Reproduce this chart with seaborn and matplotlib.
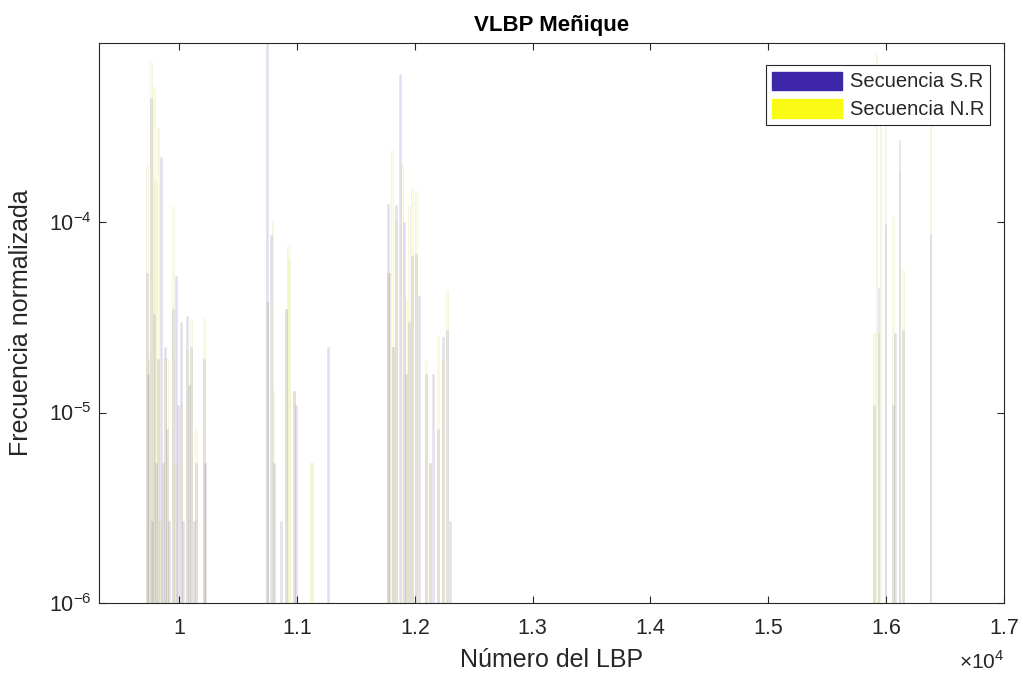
import numpy as np
import pandas as pd
import matplotlib
matplotlib.use("Agg")
import matplotlib.pyplot as plt
from matplotlib.patches import Patch
from matplotlib.ticker import FixedLocator, NullLocator
import seaborn as sns

# Normalised LBP histogram, sequence S.R (only non-empty bins)
sr_lbp = [9729, 9735, 9763, 9771, 9788, 9805, 9822, 9847, 9864, 9881, 9898, 9915,
          9949, 9975, 9992, 10017, 10034, 10068, 10085, 10102, 10127, 10144, 10212, 10220,
          10746, 10750, 10780, 10806, 10865, 10907, 10975, 10992, 11264,
          11772, 11780, 11815, 11840, 11874, 11908, 11925, 11950, 11976, 12010, 12035,
          12095, 12128, 12154, 12196, 12239, 12273, 12298,
          15894, 15936, 15995, 16055, 16072, 16114, 16140, 16377]
sr_freq = [5.4e-5, 1.6e-5, 4.5e-4, 2.7e-6, 3.3e-5, 5.4e-6, 1.9e-5, 2.2e-4, 5.4e-6, 2.2e-5, 8.2e-6, 2.7e-6,
           3.5e-5, 5.2e-5, 1.1e-5, 3.0e-5, 2.7e-6, 3.2e-5, 1.4e-5, 2.2e-5, 2.7e-6, 5.4e-6, 1.9e-5, 5.4e-6,
           9.5e-4, 3.8e-5, 8.6e-5, 5.4e-6, 2.7e-6, 3.5e-5, 1.3e-5, 1.1e-5, 2.2e-5,
           1.25e-4, 5.4e-5, 2.2e-5, 1.23e-4, 6.0e-4, 1.0e-4, 1.6e-5, 3.0e-5, 6.6e-5, 6.8e-5, 4.1e-5,
           1.6e-5, 5.4e-6, 1.6e-5, 8.2e-6, 2.5e-5, 2.7e-5, 2.7e-6,
           1.1e-5, 4.5e-5, 9.8e-5, 1.1e-5, 2.6e-5, 2.7e-4, 2.7e-5, 8.7e-5]

# Normalised LBP histogram, sequence N.R
nr_lbp = [9729, 9740, 9763, 9788, 9797, 9822, 9839, 9881, 9898, 9949, 9966,
          10017, 10068, 10102, 10144, 10212,
          10746, 10793, 10800, 10907, 10924, 10932, 10975, 11119, 11127,
          11772, 11806, 11815, 11840, 11891, 11925, 11950, 11976, 12010,
          12095, 12128, 12196, 12239, 12273,
          15894, 15919, 15936, 15953, 15995, 16055, 16114, 16140, 16377]
nr_freq = [2.0e-4, 1.9e-5, 6.9e-4, 5.1e-4, 1.65e-4, 3.1e-4, 2.7e-6, 1.9e-5, 1.9e-5, 1.2e-4, 5.4e-6,
           1.1e-5, 2.1e-5, 3.1e-5, 8.2e-6, 3.1e-5,
           3.8e-5, 1.03e-4, 1.3e-5, 3.5e-5, 7.5e-5, 6.3e-5, 1.3e-5, 5.4e-6, 5.4e-6,
           5.4e-5, 2.4e-4, 2.2e-5, 1.0e-4, 2.0e-4, 3.9e-5, 1.2e-4, 1.5e-4, 1.45e-4,
           1.86e-5, 5.4e-6, 2.5e-5, 1.9e-5, 4.4e-5,
           2.6e-5, 7.6e-4, 2.6e-5, 4.0e-4, 3.5e-4, 1.07e-4, 1.8e-4, 5.6e-5, 3.2e-4]

series_names = ["Secuencia S.R", "Secuencia N.R"]
xtick_values = [10000, 11000, 12000, 13000, 14000, 15000, 16000, 17000]
xtick_labels = ["1", "1.1", "1.2", "1.3", "1.4", "1.5", "1.6", "1.7"]
ytick_values = [1e-6, 1e-5, 1e-4]

c_sr = (0.2422, 0.1504, 0.6603)
c_nr = (0.9769, 0.9839, 0.0805)
ink = "#262626"

df = pd.DataFrame({
    "lbp": sr_lbp + nr_lbp,
    "freq": sr_freq + nr_freq,
    "serie": [series_names[0]] * len(sr_lbp) + [series_names[1]] * len(nr_lbp),
})

sns.set_theme(style="white")
plt.rcParams["font.family"] = ["Liberation Sans", "DejaVu Sans"]
plt.rcParams["mathtext.fontset"] = "custom"
plt.rcParams["mathtext.rm"] = "Liberation Sans"

fig = plt.figure(figsize=(10.23, 6.73), dpi=100)
ax = fig.add_axes([0.0968, 0.104, 0.8846, 0.832])
ax.set_yscale("log")

# thin bars of roughly 15 LBP units each on the native numeric axis
min_gap = np.diff(np.unique(df["lbp"])).min()
bar_w = 15.0 / min_gap
sns.barplot(data=df, x="lbp", y="freq", hue="serie", hue_order=series_names,
            palette=[c_sr, c_nr], native_scale=True, dodge=False, width=bar_w,
            errorbar=None, legend=False, ax=ax)

for cont, col in zip(ax.containers, [c_sr, c_nr]):
    for p in cont.patches:
        p.set_facecolor((*col, 0.15))
        p.set_edgecolor((0.35, 0.33, 0.3, 0.09))
        p.set_linewidth(0.4)

ax.set_xlim(9320, 17000)
ax.set_ylim(1e-6, 8.7e-4)
ax.xaxis.set_major_locator(FixedLocator(xtick_values))
ax.set_xticklabels(xtick_labels)
ax.yaxis.set_major_locator(FixedLocator(ytick_values))
ax.yaxis.set_minor_locator(NullLocator())

ax.tick_params(axis="both", which="major", direction="in", length=5, width=0.8,
               color=ink, labelcolor=ink, labelsize=15.5, top=True, right=True,
               bottom=True, left=True)
ax.tick_params(axis="x", pad=11)
ax.tick_params(axis="y", pad=5)
for s in ax.spines.values():
    s.set_color(ink)
    s.set_linewidth(0.8)

ax.set_title("VLBP Meñique", fontsize=16, fontweight="bold", color="black", pad=9)
ax.set_xlabel("Número del LBP", fontsize=18, color=ink, labelpad=6)
ax.set_ylabel("Frecuencia normalizada", fontsize=18, color=ink, labelpad=12)
ax.text(1.0, -0.105, r"$\times10^{4}$", transform=ax.transAxes, ha="right",
        va="center", fontsize=15, color=ink)

handles = [Patch(facecolor=c_sr, edgecolor=c_sr), Patch(facecolor=c_nr, edgecolor=c_nr)]
leg = ax.legend(handles, series_names, loc="upper right", bbox_to_anchor=(0.9845, 0.96),
                fancybox=False, framealpha=1, edgecolor=ink, fontsize=14.5,
                handlelength=3.5, handleheight=1.0, borderpad=0.3, labelspacing=0.4,
                handletextpad=0.35, borderaxespad=0)
leg.get_frame().set_linewidth(0.8)
for t in leg.get_texts():
    t.set_color(ink)

fig.savefig("out.png", dpi=100, facecolor="white")
